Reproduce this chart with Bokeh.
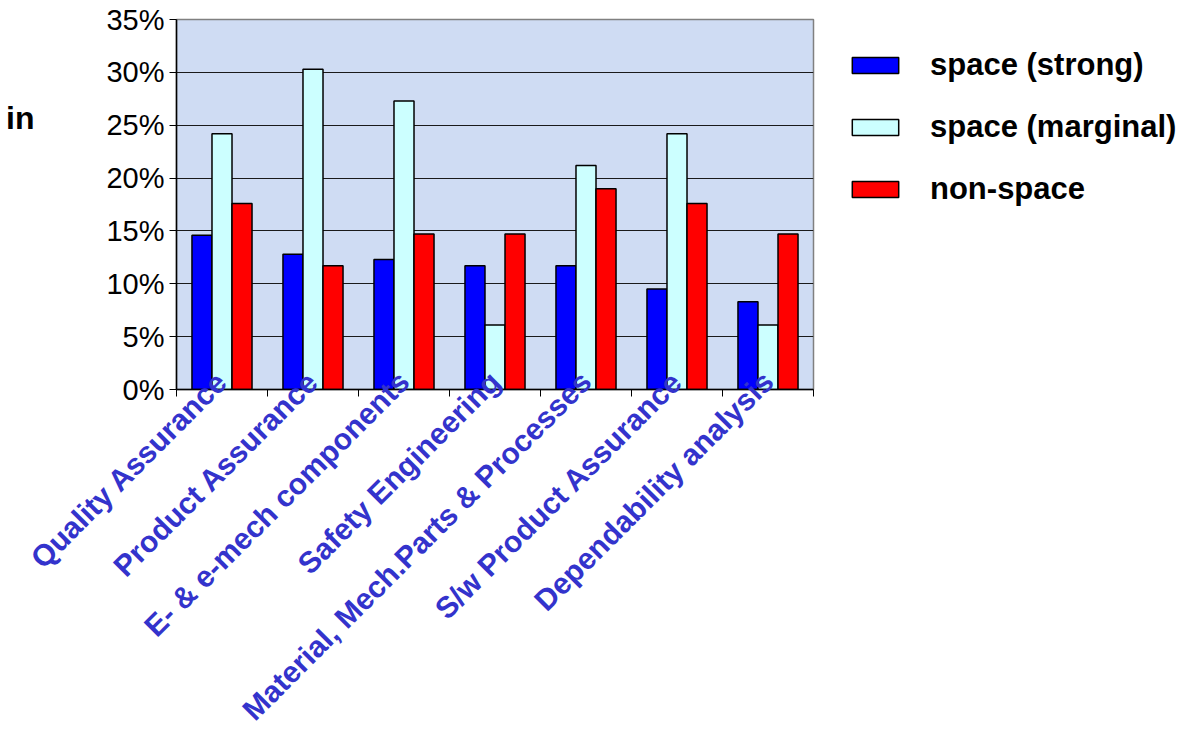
import math
from bokeh.plotting import figure
from bokeh.models import (Range1d, FixedTicker, PrintfTickFormatter, Legend, LegendItem,
                          ColumnDataSource, LinearAxis)
from bokeh.transform import dodge
from bokeh.embed import file_html
from bokeh.resources import INLINE

categories = ["Quality Assurance", "Product Assurance", "E- & e-mech components",
              "Safety Engineering", "Material, Mech.Parts & Processes",
              "S/w Product Assurance", "Dependability analysis"]
series_names = ["space (strong)", "space (marginal)", "non-space"]
strong = [14.6, 12.8, 12.3, 11.7, 11.7, 9.5, 8.3]
marginal = [24.2, 30.3, 27.3, 6.1, 21.2, 24.2, 6.1]
non_space = [17.6, 11.7, 14.7, 14.7, 19.0, 17.6, 14.7]
y_ticks = [0, 5, 10, 15, 20, 25, 30, 35]
side_text = "in"
side_text_level = 25.7

FONT = "Liberation Sans"

xpos = [i + 0.5 for i in range(len(categories))]
src = ColumnDataSource(dict(x=xpos, strong=strong, marginal=marginal, non=non_space))

p = figure(frame_width=637, frame_height=370, output_backend="svg", toolbar_location=None,
           x_range=Range1d(0, len(categories)), y_range=Range1d(0, 35),
           min_border_left=176, min_border_top=19, min_border_right=368, min_border_bottom=0,
           background_fill_color="#CFDCF3", border_fill_color="white")

bw = 0.22
r1 = p.vbar(x=dodge("x", -bw, range=p.x_range), top="strong", width=bw, source=src,
            fill_color="#0000FF", line_color="black", line_width=1.5)
r2 = p.vbar(x=dodge("x", 0, range=p.x_range), top="marginal", width=bw, source=src,
            fill_color="#CCFFFF", line_color="black", line_width=1.5)
r3 = p.vbar(x=dodge("x", bw, range=p.x_range), top="non", width=bw, source=src,
            fill_color="#FF0000", line_color="black", line_width=1.5)

p.outline_line_color = "#808080"
p.outline_line_width = 1.5

# grid
p.xgrid.grid_line_color = None
p.ygrid.ticker = FixedTicker(ticks=y_ticks)
p.ygrid.grid_line_color = "#1a1a1a"
p.ygrid.grid_line_width = 1

# y axis
ya = p.yaxis[0]
ya.ticker = FixedTicker(ticks=y_ticks)
ya.formatter = PrintfTickFormatter(format="%d%%")
ya.major_label_text_font = FONT
ya.major_label_text_font_size = "29px"
ya.major_label_text_color = "black"
ya.major_tick_out = 7
ya.major_tick_in = 0
ya.minor_tick_line_color = None
ya.axis_line_color = "black"
ya.axis_line_width = 1.5
ya.major_label_standoff = 5

# partial side text ("in") drawn as an extra left axis label
ax2 = LinearAxis(ticker=FixedTicker(ticks=[side_text_level]),
                 major_label_overrides={side_text_level: side_text},
                 axis_line_color=None, major_tick_line_color=None, minor_tick_line_color=None,
                 major_label_text_font=FONT, major_label_text_font_style="bold",
                 major_label_text_font_size="32px", major_label_text_color="black",
                 major_label_standoff=63)
p.add_layout(ax2, "left")

# x axis
xa = p.xaxis[0]
xa.ticker = FixedTicker(ticks=xpos, minor_ticks=list(range(len(categories) + 1)))
xa.major_label_overrides = {x: c for x, c in zip(xpos, categories)}
xa.major_label_orientation = math.pi / 4
xa.major_label_text_font = FONT
xa.major_label_text_font_style = "bold"
xa.major_label_text_font_size = "30px"
xa.major_label_text_color = "#3333CC"
xa.major_tick_out = 0
xa.major_tick_in = 0
xa.minor_tick_out = 7
xa.minor_tick_in = 0
xa.minor_tick_line_color = "black"
xa.axis_line_color = "black"
xa.axis_line_width = 1.5
xa.major_label_standoff = -20

legend = Legend(items=[LegendItem(label=series_names[0], renderers=[r1]),
                       LegendItem(label=series_names[1], renderers=[r2]),
                       LegendItem(label=series_names[2], renderers=[r3])],
                location=(33, 182), orientation="vertical",
                glyph_width=58, glyph_height=20, label_standoff=26,
                label_text_font=FONT, label_text_font_style="bold",
                label_text_font_size="31px", label_text_color="black",
                spacing=26, padding=0, margin=0,
                border_line_color=None, background_fill_alpha=0)
p.add_layout(legend, "right")

open("out.html", "w").write(file_html(p, INLINE))
